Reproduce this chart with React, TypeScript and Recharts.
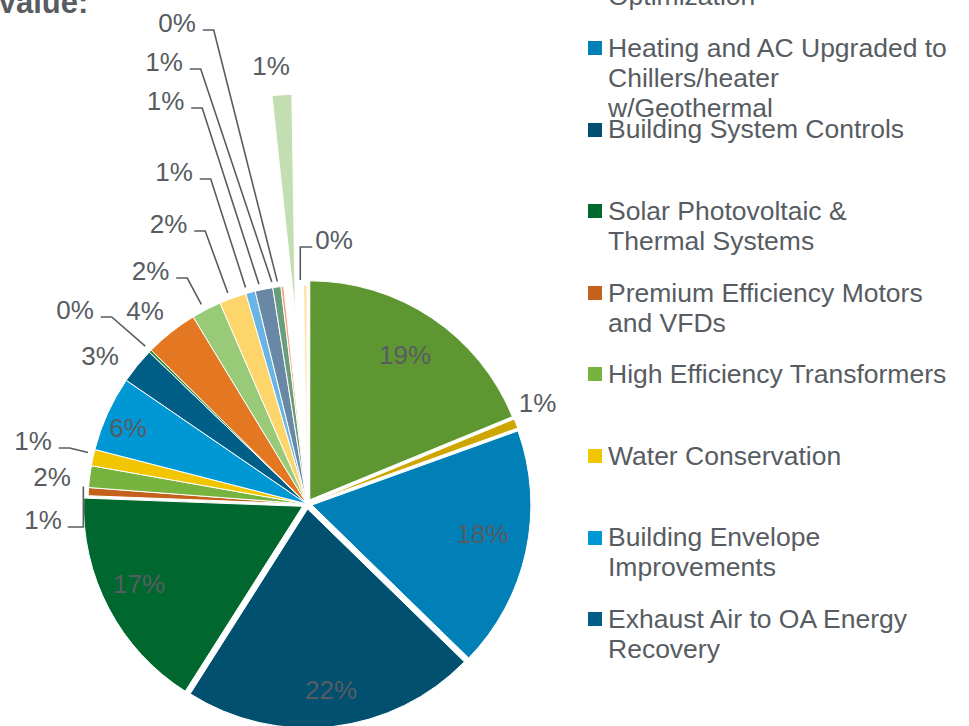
import React from 'react';
import { PieChart, Pie, Cell } from 'recharts';

// ---------- data ----------
const CATEGORIES = [
  'Lighting Upgrades and Controls',
  'Retro-Commissioning and Optimization',
  'Heating and AC Upgraded to Chillers/heater w/Geothermal',
  'Building System Controls',
  'Solar Photovoltaic & Thermal Systems',
  'Premium Efficiency Motors and VFDs',
  'High Efficiency Transformers',
  'Water Conservation',
  'Building Envelope Improvements',
  'Exhaust Air to OA Energy Recovery',
  'Kitchen Hood Controls',
  'Domestic Hot Water Upgrades',
  'Vending Machine Controls',
  'Pool Covers',
  'Window Film',
  'Steam Trap Replacement',
  'Pipe Insulation',
  'Plug Load Controls',
  'Wind Turbine',
  'Other Measures',
];
const VALUES = [18.8, 0.7, 17.8, 21.7, 16.6, 0.6, 1.6, 1.2, 5.55, 2.65, 0.2, 3.9, 2.2, 2.0, 0.7, 1.3, 0.6, 0.2, 1.45, 0.25];
const LEGEND_LINES = [
  ['Lighting Upgrades and', 'Controls'],
  ['Retro-Commissioning and', 'Optimization'],
  ['Heating and AC Upgraded to', 'Chillers/heater', 'w/Geothermal'],
  ['Building System Controls'],
  ['Solar Photovoltaic &', 'Thermal Systems'],
  ['Premium Efficiency Motors', 'and VFDs'],
  ['High Efficiency Transformers'],
  ['Water Conservation'],
  ['Building Envelope', 'Improvements'],
  ['Exhaust Air to OA Energy', 'Recovery'],
];
const TITLE = 'Value:';

// ---------- style ----------
const COLORS = [
  '#5E9732', '#CFA500', '#0080B6', '#02506F', '#00682F',
  '#C4621C', '#76B33F', '#F1C500', '#0098D4', '#005E87',
  '#2E8B3E', '#E37722', '#99CA78', '#FDD56A', '#68B4E4',
  '#6888A6', '#6A9E7A', '#F4A27A', '#C3DFB2', '#FFE3A6',
];
const EXPLODE = [5, 5, 5, 5, 5, 0, 0, 0, 0, 0, 0, 0, 0, 0, 0, 0, 0, 0, 191, 0];

type LabelCfg = { dx: number; dy: number; leader?: 'fan' | 'elbow'; side?: 'left' | 'right' };
const LABEL_LAYOUT: LabelCfg[] = [
  { dx: 103, dy: -144 },
  { dx: 235.5, dy: -96.5 },
  { dx: 180.5, dy: 35 },
  { dx: 29, dy: 191 },
  { dx: -163, dy: 85 },
  { dx: -259, dy: 21, leader: 'elbow', side: 'left' },
  { dx: -250, dy: -22 },
  { dx: -269, dy: -58, leader: 'fan', side: 'left' },
  { dx: -174, dy: -71 },
  { dx: -202, dy: -143 },
  { dx: -227, dy: -189, leader: 'fan', side: 'left' },
  { dx: -157, dy: -188 },
  { dx: -151.5, dy: -228, leader: 'fan', side: 'left' },
  { dx: -133.5, dy: -275, leader: 'fan', side: 'left' },
  { dx: -128, dy: -327, leader: 'fan', side: 'left' },
  { dx: -136.5, dy: -398, leader: 'fan', side: 'left' },
  { dx: -138, dy: -437, leader: 'fan', side: 'left' },
  { dx: -125, dy: -476, leader: 'fan', side: 'left' },
  { dx: -31, dy: -433 },
  { dx: 32, dy: -259, leader: 'elbow', side: 'right' },
];

const W = 969;
const H = 726;
const CX = 302;
const CY = 499;
const R = 219;
const START = 90;
const END = -270;
const FONT = '"Liberation Sans", Arial, Helvetica, sans-serif';
const TEXT = '#575C62';
const FS = 26;

const DATA = CATEGORIES.map((name, i) => ({ name, value: VALUES[i] }));
const TOTAL = VALUES.reduce((a, b) => a + b, 0);
const RAD = Math.PI / 180;

function midAngle(i: number) {
  let before = 0;
  for (let j = 0; j < i; j++) before += VALUES[j];
  const frac = (before + VALUES[i] / 2) / TOTAL;
  return START + (END - START) * frac;
}
function polar(cx: number, cy: number, r: number, a: number) {
  return { x: cx + r * Math.cos(-a * RAD), y: cy + r * Math.sin(-a * RAD) };
}
function explodeCenter(i: number) {
  const off = polar(0, 0, EXPLODE[i], midAngle(i));
  return { x: CX + off.x, y: CY + off.y };
}

const renderLabel = (props: any) => {
  const i: number = props.index;
  const cfg = LABEL_LAYOUT[i];
  if (!cfg) return null;
  const tx = CX + cfg.dx;
  const ty = CY + cfg.dy;
  const pct = Math.round((VALUES[i] / TOTAL) * 100) + '%';
  const halfW = pct.length * 0.36 * FS;
  let d: string | null = null;
  if (cfg.leader) {
    const c = explodeCenter(i);
    const p = polar(c.x, c.y, R, midAngle(i));
    const ly = ty + 7;
    if (cfg.leader === 'fan') {
      const x0 = tx + halfW + 7;
      d = `M${x0},${ly}H${x0 + 11}L${p.x},${p.y}`;
    } else if (cfg.side === 'left') {
      const x0 = tx + halfW + 6;
      d = `M${x0},${ly}H${p.x}V${p.y}`;
    } else {
      const x0 = tx - halfW - 3;
      d = `M${x0},${ly}H${p.x}V${p.y}`;
    }
  }
  return (
    <g key={`lbl-${i}`}>
      {d && <path d={d} fill="none" stroke="#595D62" strokeWidth={1.6} />}
      <text
        x={tx}
        y={ty + 9.3}
        textAnchor="middle"
        fill={TEXT}
        style={{ fontFamily: FONT, fontSize: FS }}
      >
        {pct}
      </text>
    </g>
  );
};

export default function App() {
  const exploded = VALUES.map((_, i) => i).filter((i) => EXPLODE[i] > 0);
  const LEGEND_STEP = 81.6;
  const LEGEND_BASE = 57; // baseline of item index 2
  return (
    <div
      style={{
        position: 'fixed',
        left: 0,
        top: 0,
        width: W,
        height: H,
        overflow: 'hidden',
        background: '#fff',
        fontFamily: FONT,
      }}
    >
      <div
        style={{
          position: 'absolute',
          left: -3,
          top: -13,
          fontSize: 31,
          lineHeight: '31px',
          fontWeight: 700,
          color: TEXT,
          whiteSpace: 'nowrap',
        }}
      >
        {TITLE}
      </div>
      <div style={{ position: 'absolute', left: 0, top: 0 }}>
        <PieChart width={W} height={H}>
          <Pie
            data={DATA}
            dataKey="value"
            nameKey="name"
            cx={CX}
            cy={CY}
            outerRadius={R}
            startAngle={START}
            endAngle={END}
            isAnimationActive={false}
            labelLine={false}
          >
            {DATA.map((_, j) => (
              <Cell
                key={`b-${j}`}
                fill={EXPLODE[j] > 0 ? 'none' : COLORS[j]}
                stroke={EXPLODE[j] > 0 ? 'none' : '#fff'}
                strokeWidth={1}
              />
            ))}
          </Pie>
          {exploded.map((i) => {
            const c = explodeCenter(i);
            return (
              <Pie
                key={`e-${i}`}
                data={DATA}
                dataKey="value"
                nameKey="name"
                cx={c.x}
                cy={c.y}
                outerRadius={R}
                startAngle={START}
                endAngle={END}
                isAnimationActive={false}
                labelLine={false}
                legendType="none"
              >
                {DATA.map((_, j) => (
                  <Cell
                    key={`e-${i}-${j}`}
                    fill={j === i ? COLORS[j] : 'none'}
                    stroke={j === i ? '#fff' : 'none'}
                    strokeWidth={1}
                  />
                ))}
              </Pie>
            );
          })}
          <Pie
            data={DATA}
            dataKey="value"
            nameKey="name"
            cx={CX}
            cy={CY}
            outerRadius={R}
            startAngle={START}
            endAngle={END}
            isAnimationActive={false}
            labelLine={false}
            label={renderLabel}
            legendType="none"
          >
            {DATA.map((_, j) => (
              <Cell key={`l-${j}`} fill="none" stroke="none" />
            ))}
          </Pie>
        </PieChart>
      </div>
      {LEGEND_LINES.map((lines, k) => {
        const baseline = LEGEND_BASE + LEGEND_STEP * (k - 2);
        return (
          <React.Fragment key={`lg-${k}`}>
            <div
              style={{
                position: 'absolute',
                left: 588,
                top: baseline - 16,
                width: 14,
                height: 14,
                background: COLORS[k],
              }}
            />
            <div
              style={{
                position: 'absolute',
                left: 608,
                top: baseline - 24.2,
                fontSize: 26.5,
                lineHeight: '30px',
                color: TEXT,
                whiteSpace: 'nowrap',
              }}
            >
              {lines.map((ln, n) => (
                <div key={n}>{ln}</div>
              ))}
            </div>
          </React.Fragment>
        );
      })}
    </div>
  );
}
